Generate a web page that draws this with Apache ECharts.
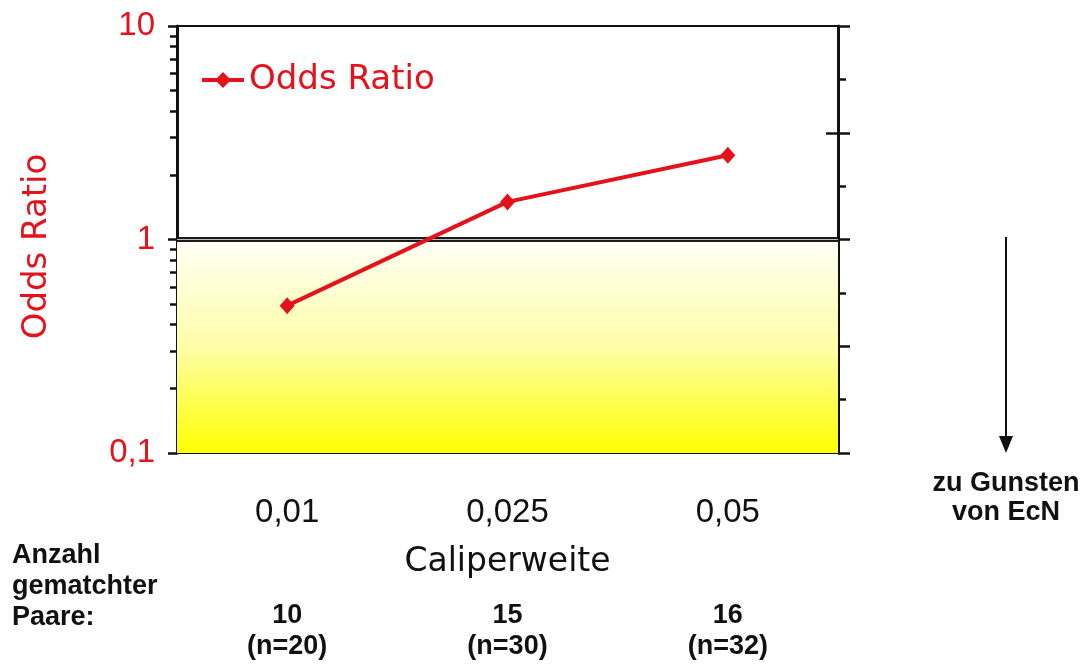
<!DOCTYPE html>
<html>
<head>
<meta charset="utf-8">
<script src="https://cdn.jsdelivr.net/npm/echarts@6/dist/echarts.min.js"></script>
<style>html,body{margin:0;padding:0;background:#fff;}#c{width:1085px;height:666px;}</style>
</head>
<body>
<div id="c"></div>
<script>
// ---- data ----
const categories = ['0,01', '0,025', '0,05'];
const oddsRatio = [0.49, 1.5, 2.48];
const pairs = [10, 15, 16];
const nTotal = [20, 30, 32];
const yTickLabels = {0.1: '0,1', 1: '1', 10: '10'};
const minorTickValues = [0.2,0.3,0.4,0.5,0.6,0.7,0.8,0.9,2,3,4,5,6,7,8,9];

const RED = '#e3121b';
const minorLog = minorTickValues.map(v => Math.log10(v));

const chart = echarts.init(document.getElementById('c'));
chart.setOption({
  animation: false,
  backgroundColor: '#fff',
  grid: {left: 177, right: 247, top: 26, bottom: 213, show: true, borderColor: '#111', borderWidth: 2, backgroundColor: 'transparent'},
  legend: {
    left: 195, top: 58, itemWidth: 42, itemHeight: 20, itemGap: 5,
    lineStyle: {width: 4},
    textStyle: {fontFamily: 'DejaVu Sans', fontSize: 34, color: RED},
    data: ['Odds Ratio']
  },
  xAxis: [{
    type: 'category', data: categories, position: 'bottom', boundaryGap: true,
    axisLine: {lineStyle: {color: '#111', width: 3}},
    axisTick: {show: false},
    axisLabel: {margin: 43, fontFamily: 'Liberation Sans', fontSize: 33, color: '#111'},
    name: 'Caliperweite', nameLocation: 'middle', nameGap: 93,
    nameTextStyle: {fontFamily: 'DejaVu Sans', fontSize: 33, color: '#111'}
  }, {
    type: 'category', data: categories, position: 'bottom', boundaryGap: true,
    axisLine: {show: false}, axisTick: {show: false},
    axisLabel: {
      margin: 147, lineHeight: 31,
      fontFamily: 'Liberation Sans', fontWeight: 'bold', fontSize: 27, color: '#111',
      formatter: (v, i) => pairs[i] + '\n(n=' + nTotal[i] + ')'
    }
  }],
  yAxis: [{
    type: 'log', logBase: 10, min: 0.1, max: 10, position: 'left',
    axisLine: {show: true, lineStyle: {color: '#111', width: 3}},
    axisTick: {show: true, length: 9, lineStyle: {color: '#111', width: 2.5}},
    splitLine: {show: false},
    axisLabel: {margin: 22, fontFamily: 'Liberation Sans', fontSize: 33, color: RED,
      formatter: v => yTickLabels[Math.round(v * 1000) / 1000] || ''},
    name: 'Odds Ratio', nameLocation: 'middle', nameGap: 123, nameRotate: 90,
    nameTextStyle: {fontFamily: 'DejaVu Sans', fontSize: 34, color: RED, padding: [0, 14, 0, 0]}
  }, {
    type: 'value', min: -1, max: 1, position: 'left',
    axisLine: {show: false}, splitLine: {show: false}, axisLabel: {show: false},
    axisTick: {show: true, length: 7, customValues: minorLog, lineStyle: {color: '#111', width: 2.5}}
  }, {
    type: 'value', min: -1, max: 1, interval: 0.5, position: 'right',
    axisLine: {show: true, lineStyle: {color: '#111', width: 3}},
    splitLine: {show: false}, axisLabel: {show: false},
    axisTick: {show: true, length: 12, lineStyle: {color: '#111', width: 2.5}},
    minorTick: {show: true, splitNumber: 2, length: 8, lineStyle: {color: '#111', width: 2.5}}
  }, {
    type: 'value', min: -1, max: 1, position: 'right',
    axisLine: {show: false}, splitLine: {show: false}, axisLabel: {show: false},
    axisTick: {show: true, inside: true, length: 12, customValues: [-0.5, 0.5], lineStyle: {color: '#111', width: 2.5}}
  }],
  series: [{
    name: 'Odds Ratio', type: 'line', xAxisIndex: 0, yAxisIndex: 0,
    data: oddsRatio,
    symbol: 'diamond', symbolSize: [15, 17],
    lineStyle: {color: RED, width: 4},
    itemStyle: {color: RED},
    z: 5,
    markArea: {
      silent: true,
      itemStyle: {color: {type: 'linear', x: 0, y: 0, x2: 0, y2: 1,
        colorStops: [{offset: 0, color: '#fffff6'}, {offset: 0.5, color: '#fdfda8'}, {offset: 1, color: '#ffff00'}]}},
      data: [[{yAxis: 0.1}, {yAxis: 1}]]
    },
    markLine: {
      silent: true, symbol: 'none', label: {show: false},
      data: [
        {yAxis: 1, lineStyle: {type: 'solid', color: '#1a1a1a', width: 5}},
        {yAxis: 1, lineStyle: {type: 'solid', color: '#bbbbbb', width: 1.2}}
      ]
    }
  }],
  graphic: [
    {type: 'text', left: 12, top: 540, style: {text: 'Anzahl\ngematchter\nPaare:', font: 'bold 27px "Liberation Sans"', fill: '#111', lineHeight: 31}},
    {type: 'line', shape: {x1: 1006, y1: 237, x2: 1006, y2: 440}, style: {stroke: '#111', lineWidth: 2}},
    {type: 'polygon', shape: {points: [[999, 436], [1013, 436], [1006, 453]]}, style: {fill: '#111'}},
    {type: 'text', x: 1006, y: 469, style: {text: 'zu Gunsten\nvon EcN', font: 'bold 27px "Liberation Sans"', fill: '#111', lineHeight: 29, align: 'center'}}
  ]
});
</script>
</body>
</html>
